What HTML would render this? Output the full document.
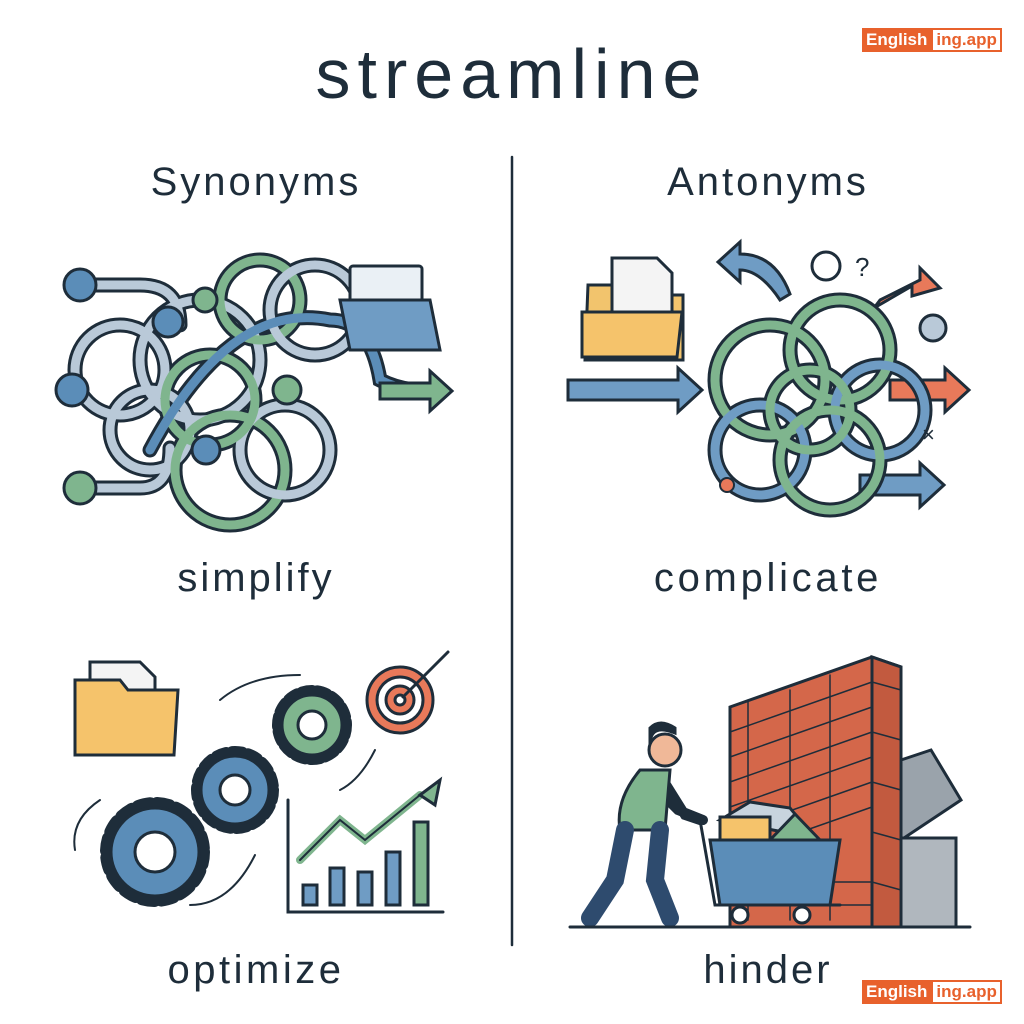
<!DOCTYPE html>
<html><head><meta charset="utf-8"><style>
body{margin:0;width:1024px;height:1024px;background:#fff;overflow:hidden;position:relative;font-family:"Liberation Sans","DejaVu Sans",sans-serif;color:#1e2d3a}
.t{position:absolute;transform:translateX(-50%);white-space:nowrap;letter-spacing:3px}
.logo{position:absolute;left:862px;height:24px;display:flex;font-weight:bold;font-size:17px;line-height:24px}
.logo .a{background:#e8612c;color:#fff;padding:0 4px}
.logo .b{border:2px solid #e8612c;color:#e8612c;padding:0 3px;line-height:20px;background:#fff}
</style></head><body>
<div class="t" style="left:512px;top:34px;font-size:70px;letter-spacing:7px">streamline</div>
<div class="t" style="left:256px;top:160px;font-size:40px">Synonyms</div>
<div class="t" style="left:768px;top:160px;font-size:40px">Antonyms</div>
<div class="t" style="left:256px;top:556px;font-size:40px">simplify</div>
<div class="t" style="left:768px;top:556px;font-size:40px;letter-spacing:3.7px">complicate</div>
<div class="t" style="left:256px;top:948px;font-size:40px;letter-spacing:3.5px">optimize</div>
<div class="t" style="left:768px;top:948px;font-size:40px">hinder</div>
<div class="logo" style="top:28px"><span class="a">English</span><span class="b">ing.app</span></div>
<div class="logo" style="top:980px"><span class="a">English</span><span class="b">ing.app</span></div>
<svg width="1024" height="1024" style="position:absolute;left:0;top:0" fill="none" stroke-linecap="round">
<line x1="512" y1="157" x2="512" y2="945" stroke="#1e2d3a" stroke-width="2.5"/>
<!-- simplify tangle -->
<g stroke="#1e2d3a" stroke-width="15">
<path d="M80 285h60q40 0 40 40 M80 488h60q30 0 30-40"/>
<circle cx="120" cy="370" r="45"/><circle cx="200" cy="360" r="60"/><circle cx="260" cy="300" r="40"/><circle cx="315" cy="310" r="45"/>
<circle cx="150" cy="430" r="40"/><circle cx="230" cy="470" r="55"/><circle cx="285" cy="450" r="45"/><circle cx="210" cy="400" r="45"/>
<path d="M150 450q80-150 180-130q40 0 50 60q20 10 40 10"/>
</g>
<g stroke-width="9">
<path stroke="#b9c9d8" d="M80 285h60q40 0 40 40 M80 488h60q30 0 30-40"/>
<circle stroke="#b9c9d8" cx="120" cy="370" r="45"/><circle stroke="#b9c9d8" cx="200" cy="360" r="60"/><circle stroke="#7fb58e" cx="260" cy="300" r="40"/><circle stroke="#b9c9d8" cx="315" cy="310" r="45"/>
<circle stroke="#b9c9d8" cx="150" cy="430" r="40"/><circle stroke="#7fb58e" cx="230" cy="470" r="55"/><circle stroke="#b9c9d8" cx="285" cy="450" r="45"/><circle stroke="#7fb58e" cx="210" cy="400" r="45"/>
<path stroke="#5b8db8" d="M150 450q80-150 180-130q40 0 50 60q20 10 40 10"/>
</g>
<path d="M380 383h50v-12l22 20-22 20v-12h-50z" fill="#7fb58e" stroke="#1e2d3a" stroke-width="3"/>
<g stroke="#1e2d3a" stroke-width="3">
<circle cx="80" cy="285" r="16" fill="#5b8db8"/><circle cx="72" cy="390" r="16" fill="#5b8db8"/><circle cx="80" cy="488" r="16" fill="#7fb58e"/>
<circle cx="168" cy="322" r="15" fill="#5b8db8"/><circle cx="206" cy="450" r="14" fill="#5b8db8"/><circle cx="287" cy="390" r="14" fill="#7fb58e"/><circle cx="205" cy="300" r="12" fill="#7fb58e"/>
<rect x="350" y="266" width="72" height="50" rx="3" fill="#eaf0f5"/>
<path d="M340 300h90l10 50h-90z" fill="#6f9cc4"/>
</g>
<!-- complicate -->
<g stroke="#1e2d3a" stroke-width="3">
<path d="M588 285h60l10 10h25v65h-98z" fill="#f2c46d"/>
<path d="M612 258h45l15 15v60h-60z" fill="#f4f4f4"/>
<path d="M582 312h100l-5 45h-95z" fill="#f5c36b"/>
<path d="M568 380h110v-12l24 22-24 22v-12h-110z" fill="#6f9cc4"/>
<path d="M890 380h55v-12l24 22-24 22v-12h-55z" fill="#e8795a"/>
<path d="M860 475h60v-12l24 22-24 22v-12h-60z" fill="#6f9cc4"/>
<path d="M880 300l40-20v-12l20 20-28 8v-10l-38 22z" fill="#e8795a"/>
<path d="M780 300q-20-30-40-30v12l-22-20 22-20v12q35 0 50 40z" fill="#6f9cc4"/>
<circle cx="826" cy="266" r="14" fill="#fff"/><circle cx="933" cy="328" r="13" fill="#b9c9d8"/>
</g>
<g stroke="#1e2d3a" stroke-width="15">
<circle cx="770" cy="380" r="55"/><circle cx="840" cy="350" r="50"/><circle cx="880" cy="410" r="45"/><circle cx="760" cy="450" r="45"/><circle cx="830" cy="460" r="50"/><circle cx="810" cy="410" r="40"/>
</g>
<g stroke-width="9">
<circle stroke="#7fb58e" cx="770" cy="380" r="55"/><circle stroke="#7fb58e" cx="840" cy="350" r="50"/><circle stroke="#6f9cc4" cx="880" cy="410" r="45"/><circle stroke="#6f9cc4" cx="760" cy="450" r="45"/><circle stroke="#7fb58e" cx="830" cy="460" r="50"/><circle stroke="#7fb58e" cx="810" cy="410" r="40"/>
</g>
<circle cx="727" cy="485" r="7" fill="#e8795a" stroke="#1e2d3a" stroke-width="2"/>
<text x="855" y="276" font-size="26" fill="#1e2d3a" stroke="none" font-family="Liberation Sans">?</text>
<text x="922" y="442" font-size="22" fill="#1e2d3a" stroke="none" font-family="Liberation Sans">×</text>
<!-- optimize -->
<g stroke="#1e2d3a" stroke-width="3">
<path d="M90 662h50l15 15v40h-65z" fill="#f4f4f4"/>
<path d="M75 680h45l8 10h50l-4 65h-99z" fill="#f5c36b"/>
<circle cx="400" cy="700" r="33" fill="#e8795a"/><circle cx="400" cy="700" r="23" fill="#fff"/><circle cx="400" cy="700" r="14" fill="#e8795a"/><circle cx="400" cy="700" r="5" fill="#fff"/>
<path d="M403 697l45-45"/>
<circle cx="312" cy="725" r="34" fill="#7fb58e" stroke-dasharray="10 5" stroke-width="12"/><circle cx="312" cy="725" r="30" fill="#7fb58e"/><circle cx="312" cy="725" r="14" fill="#fff"/>
<circle cx="235" cy="790" r="38" fill="#5b8db8" stroke-dasharray="10 6" stroke-width="12"/><circle cx="235" cy="790" r="34" fill="#5b8db8"/><circle cx="235" cy="790" r="15" fill="#fff"/>
<circle cx="155" cy="852" r="48" fill="#5b8db8" stroke-dasharray="12 7" stroke-width="14"/><circle cx="155" cy="852" r="44" fill="#5b8db8"/><circle cx="155" cy="852" r="20" fill="#fff"/>
<path d="M288 800v112h155"/>
<rect x="303" y="885" width="14" height="20" fill="#6f9cc4"/><rect x="330" y="868" width="14" height="37" fill="#6f9cc4"/><rect x="358" y="872" width="14" height="33" fill="#6f9cc4"/><rect x="386" y="852" width="14" height="53" fill="#6f9cc4"/><rect x="414" y="822" width="14" height="83" fill="#7fb58e"/>
<path d="M300 860l40-40 25 20 55-45" stroke="#7fb58e" stroke-width="8"/>
<path d="M300 860l40-40 25 20 55-45" stroke="#1e2d3a" stroke-width="2"/>
<path d="M420 795l20-15-5 25z" fill="#7fb58e"/>
<path d="M220 700q30-25 80-25M100 800q-30 20-25 50M190 905q40 0 65-50M340 790q20-10 35-40" stroke-width="2"/>
</g>
<!-- hinder -->
<g stroke="#1e2d3a" stroke-width="3">
<path d="M730 707L872 657L901 667V927H730z" fill="#d4674a"/>
<path d="M872 657L901 667V927H872z" fill="#c25a3f"/>
<path d="M901 760l30-10 30 50-60 40z" fill="#9aa3ab"/>
<path d="M901 838h55v89h-55z" fill="#b0b7be"/>
</g>
<g stroke="#1e2d3a" stroke-width="1.5">
<path d="M730 732L872 682M730 757L872 707M730 782L872 732M730 807L872 757M730 832L872 782M730 857L872 807M872 682v245M748 700v220M790 690v230M830 675v245"/>
<path d="M730 882h142M730 905h142M872 682l29 8M872 732l29 8M872 782l29 8M872 832l29 8M872 882l29 8"/>
</g>
<g stroke="#1e2d3a" stroke-width="3">
<path d="M720 820l30-18 40 6 25 30z" fill="#c8d4de"/>
<rect x="720" y="817" width="50" height="25" fill="#f5c36b"/>
<path d="M770 840l25-26 25 26z" fill="#7fb58e"/>
<path d="M710 840h130l-10 65h-110z" fill="#5b8db8"/>
<path d="M700 820l15 85h125" fill="none"/>
<circle cx="740" cy="915" r="8" fill="#fff"/><circle cx="802" cy="915" r="8" fill="#fff"/>
<path d="M648 780l30 30 25 10M660 775l25 40 15 5" stroke-width="10"/>
<path d="M640 770q-25 30-20 60h45l5-60z" fill="#7fb58e"/>
<path d="M625 830l-10 50-25 38M660 830l-5 50 15 38" stroke="#2e4b6e" stroke-width="18"/>
<circle cx="665" cy="750" r="16" fill="#f0b898"/>
<path d="M650 745q0-22 25-12v-5q-15-10-25 0z" fill="#1e2d3a"/>
<path d="M570 927h400" stroke-width="3"/>
</g>
</svg>
</body></html>
